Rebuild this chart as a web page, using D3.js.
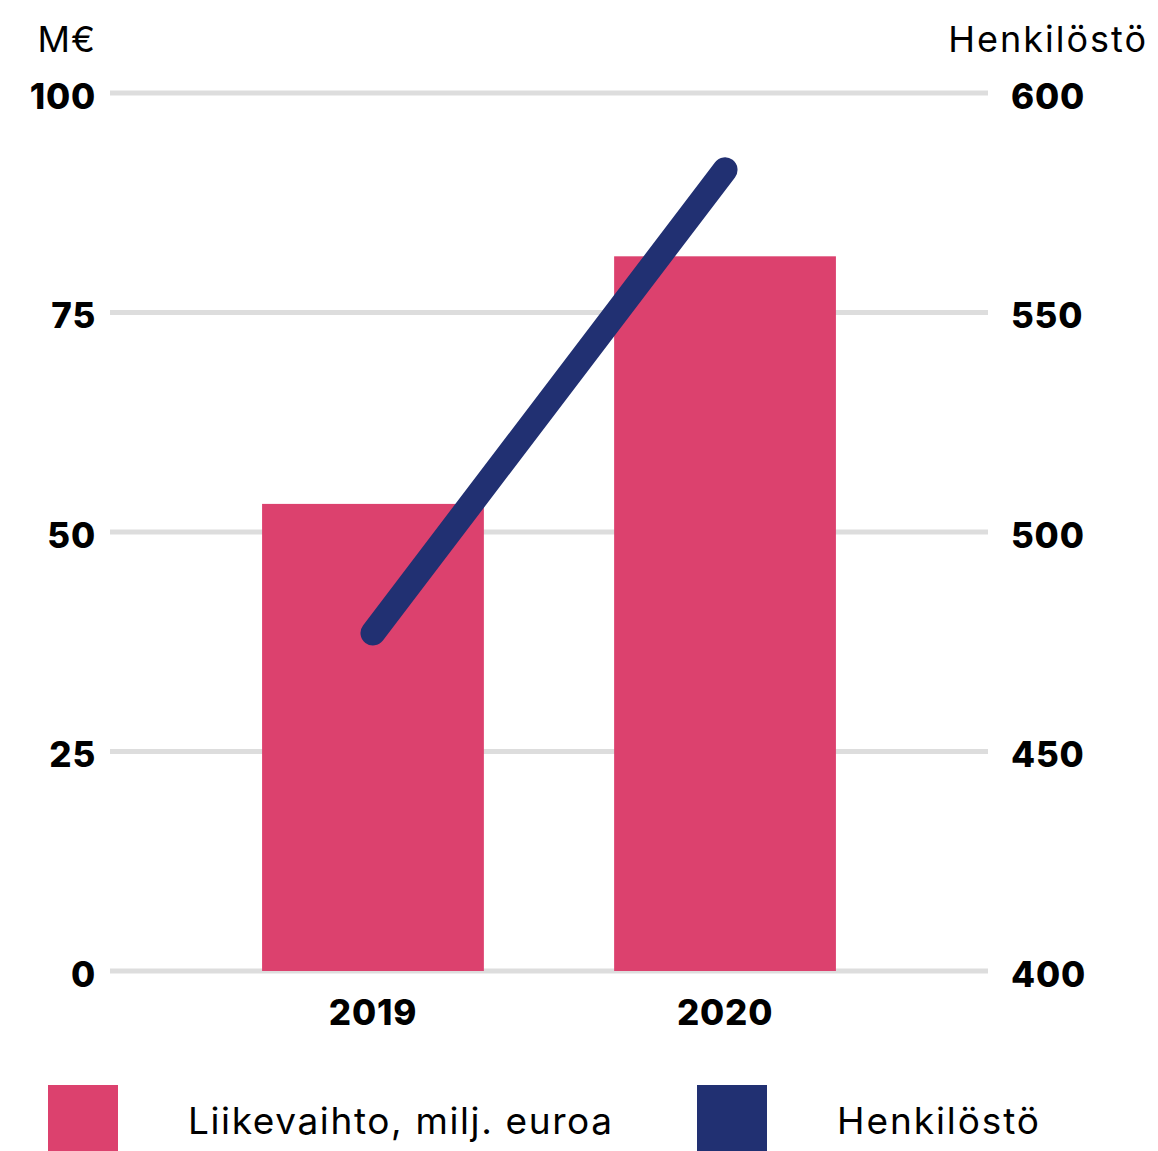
<!DOCTYPE html>
<html>
<head>
<meta charset="utf-8">
<script src="https://cdn.jsdelivr.net/npm/d3@7"></script>
<style>
  body { margin: 0; background: #fff; }
  svg { display: block; font-family: Inter, Roboto, sans-serif; }
</style>
</head>
<body>
<div id="chart"></div>
<script>
// data
const years = ["2019", "2020"];
const revenue = [53.2, 81.4];      // M€
const staff = [477, 582.5];        // Henkilöstö
const leftTicks = [0, 25, 50, 75, 100];
const rightTicks = [400, 450, 500, 550, 600];

const W = 1158, H = 1151;
const pinkColor = "#dc416e", navyColor = "#213072";

const svg = d3.select("#chart").append("svg")
  .attr("width", W)
  .attr("height", H);

const x = d3.scaleBand()
  .domain(years)
  .range([110, 988])
  .paddingInner(0.37)
  .paddingOuter(0.432);

const yL = d3.scaleLinear().domain([0, 100]).range([971, 93]);
const yR = d3.scaleLinear().domain([400, 600]).range([971, 93]);

function styleTicks(g) {
  g.select(".domain").remove();
  g.selectAll("text")
    .attr("font-size", 35)
    .attr("font-weight", 800)
    .attr("letter-spacing", 0.8)
    .attr("fill", "#000")
    .attr("font-family", "Inter, Roboto, sans-serif");
}

// gridlines
svg.append("g").selectAll("line")
  .data(leftTicks)
  .enter().append("line")
  .attr("x1", 110)
  .attr("x2", 988)
  .attr("y1", d => yL(d))
  .attr("y2", d => yL(d))
  .attr("stroke", "#dddddd")
  .attr("stroke-width", 5);

// left axis
const leftAxis = svg.append("g")
  .attr("transform", "translate(96,4)")
  .call(d3.axisLeft(yL).tickValues(leftTicks).tickSize(0).tickPadding(0));
styleTicks(leftAxis);

// right axis
const rightAxis = svg.append("g")
  .attr("transform", "translate(1011,4)")
  .call(d3.axisRight(yR).tickValues(rightTicks).tickSize(0).tickPadding(0));
styleTicks(rightAxis);

// axis titles
svg.append("text")
  .attr("x", 96).attr("y", 52)
  .attr("text-anchor", "end")
  .attr("font-size", 36)
  .attr("letter-spacing", 1)
  .text("M€");
svg.append("text")
  .attr("x", 1148).attr("y", 52)
  .attr("text-anchor", "end")
  .attr("font-size", 36)
  .attr("letter-spacing", 2)
  .text("Henkilöstö");

// bars
svg.append("g").selectAll("rect")
  .data(years)
  .enter().append("rect")
  .attr("x", d => x(d))
  .attr("width", x.bandwidth())
  .attr("y", (d, i) => yL(revenue[i]))
  .attr("height", (d, i) => yL(0) - yL(revenue[i]))
  .attr("fill", pinkColor);

// x axis labels
const bottomAxis = svg.append("g")
  .attr("transform", "translate(0,1000)")
  .call(d3.axisBottom(x).tickSize(0).tickPadding(0));
styleTicks(bottomAxis);

// line
const line = d3.line()
  .x((d, i) => x(years[i]) + x.bandwidth() / 2)
  .y(d => yR(d));

svg.append("path")
  .datum(staff)
  .attr("d", line)
  .attr("fill", "none")
  .attr("stroke", navyColor)
  .attr("stroke-width", 25)
  .attr("stroke-linecap", "round");

// legend
const legend = [
  {label: "Liikevaihto, milj. euroa", color: pinkColor, x: 48, tx: 188, w: 424},
  {label: "Henkilöstö", color: navyColor, x: 697, tx: 837, w: 202}
];
const lg = svg.append("g").selectAll("g")
  .data(legend)
  .enter().append("g");
lg.append("rect")
  .attr("x", d => d.x)
  .attr("y", 1085)
  .attr("width", 70)
  .attr("height", 66)
  .attr("fill", d => d.color);
lg.append("text")
  .attr("x", d => d.tx)
  .attr("y", 1134)
  .attr("font-size", 37)
  .attr("fill", "#000")
  .attr("textLength", d => d.w)
  .text(d => d.label);
</script>
</body>
</html>
